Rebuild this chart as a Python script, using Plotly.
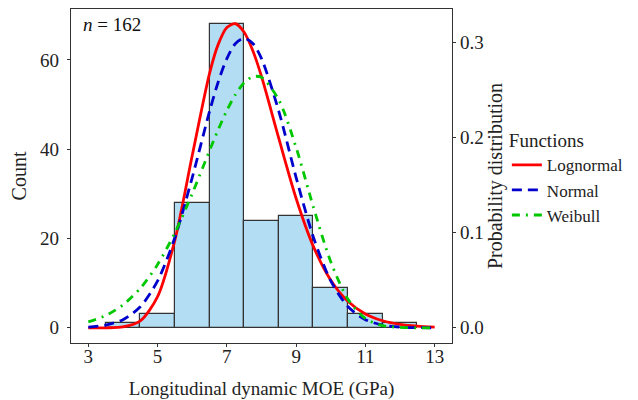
import plotly.graph_objects as go

# Histogram data (bin centres, width 1 GPa)
bin_centers = [4, 5, 6, 7, 8, 9, 10, 11, 12]
counts = [1, 3, 28, 68, 24, 25, 9, 3, 1]

# Fitted probability density curves
curve_x = [3, 3.5, 4, 4.5, 5, 5.5, 6, 6.5, 6.75, 7, 7.25, 7.5, 7.75, 8,
           8.5, 9, 9.5, 10, 10.5, 11, 11.5, 12, 12.5, 13]
lognormal = [0.0000, 0.0000, 0.0009, 0.0073, 0.0328, 0.0923, 0.1812, 0.2676,
             0.2980, 0.3157, 0.3197, 0.3108, 0.2914, 0.2643, 0.1991, 0.1360,
             0.0854, 0.0501, 0.0277, 0.0146, 0.0074, 0.0036, 0.0017, 0.0008]
normal = [0.0008, 0.0029, 0.0086, 0.0221, 0.0493, 0.0950, 0.1580, 0.2276,
          0.2585, 0.2831, 0.2990, 0.3045, 0.2990, 0.2831, 0.2276, 0.1580,
          0.0950, 0.0493, 0.0221, 0.0086, 0.0029, 0.0008, 0.0002, 0.0000]
weibull = [0.0062, 0.0129, 0.0241, 0.0415, 0.0666, 0.1000, 0.1411, 0.1863,
           0.2083, 0.2285, 0.2454, 0.2577, 0.2641, 0.2634, 0.2396, 0.1895,
           0.1267, 0.0694, 0.0299, 0.0097, 0.0023, 0.0004, 0.0000, 0.0000]

x_ticks = [3, 5, 7, 9, 11, 13]
count_ticks = [0, 20, 40, 60]
prob_ticks = [0.0, 0.1, 0.2, 0.3]
prob_tick_labels = ["0.0", "0.1", "0.2", "0.3"]

FAM = "Liberation Serif"
AXC = "#333333"
TXT = "#222222"
ratio = 213.0


def f(size, color=TXT):
    return dict(family=FAM, size=size, color=color)


fig = go.Figure()
fig.add_trace(go.Bar(
    x=bin_centers, y=counts, width=1,
    marker=dict(color="#b3ddf2", line=dict(color="#333333", width=1.2)),
    showlegend=False, yaxis="y", hoverinfo="x+y"))

fig.add_trace(go.Scatter(
    x=curve_x, y=lognormal, mode="lines", name="Lognormal", yaxis="y2",
    line=dict(color="#ff0000", width=2.8, shape="spline", smoothing=0.8)))
fig.add_trace(go.Scatter(
    x=curve_x, y=normal, mode="lines", name="Normal", yaxis="y2",
    line=dict(color="#0000cd", width=2.8, dash="10px,6px", shape="spline", smoothing=0.8)))
fig.add_trace(go.Scatter(
    x=curve_x, y=weibull, mode="lines", name="Weibull", yaxis="y2",
    line=dict(color="#00c800", width=2.8, dash="8px,6px,2px,6px", shape="spline", smoothing=0.8)))

ymin, ymax = -3.4, 71.4

fig.update_layout(
    width=630, height=392,
    margin=dict(l=63, r=186, t=1, b=57, autoexpand=False),
    paper_bgcolor="white", plot_bgcolor="white",
    font=f(19),
    bargap=0,
    xaxis=dict(
        range=[2.5, 13.5], tickvals=x_ticks, ticks="outside", ticklen=3,
        tickcolor=AXC, showline=True, linecolor=AXC, linewidth=1.3, mirror=True,
        showgrid=False, zeroline=False, automargin=False,
        tickfont=f(19), ticklabelstandoff=-7,
        title=dict(text="Longitudinal dynamic MOE (GPa)", font=f(19), standoff=17)),
    yaxis=dict(
        range=[ymin, ymax], tickvals=count_ticks, ticks="outside", ticklen=3,
        tickcolor=AXC, showline=True, linecolor=AXC, linewidth=1.3,
        showgrid=False, zeroline=False, automargin=False,
        tickfont=f(19), ticklabelstandoff=4,
        title=dict(text="Count", font=f(20), standoff=14)),
    yaxis2=dict(
        overlaying="y", side="right",
        range=[ymin / ratio, ymax / ratio], tickvals=prob_ticks, ticktext=prob_tick_labels,
        ticks="outside", ticklen=3,
        tickcolor=AXC, showline=True, linecolor=AXC, linewidth=1.3,
        showgrid=False, zeroline=False, automargin=False,
        tickfont=f(19),
        title=dict(text="Probability distribution", font=f(20), standoff=2)),
    legend=dict(
        x=1.144, y=0.66, xanchor="left", yanchor="top",
        title=dict(text="Functions", font=f(19)),
        font=f(17), itemwidth=30,
        bgcolor="rgba(0,0,0,0)"),
    annotations=[dict(
        text="<i>n</i> = 162", xref="paper", yref="paper",
        x=0.026, y=0.955, xanchor="left", yanchor="middle", showarrow=False,
        font=f(19, "#111111"))],
)

fig.write_html("out.html")
